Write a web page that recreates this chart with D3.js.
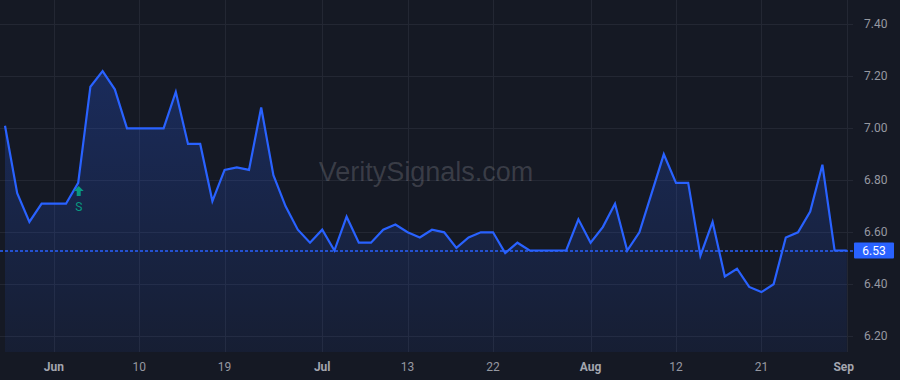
<!DOCTYPE html>
<html>
<head>
<meta charset="utf-8">
<script src="https://cdn.jsdelivr.net/npm/d3@7"></script>
<style>
  html, body { margin: 0; padding: 0; background: #151924; }
  svg { display: block; }
</style>
</head>
<body>
<div id="chart"></div>
<script>
// daily closes, one per bar (bar index 0..69)
var values = [
  7.01, 6.75, 6.64, 6.71, 6.71, 6.71, 6.79, 7.16, 7.22, 7.15,
  7.00, 7.00, 7.00, 7.00, 7.14, 6.94, 6.94, 6.72, 6.84, 6.85,
  6.84, 7.08, 6.82, 6.70, 6.61, 6.56, 6.61, 6.53, 6.66, 6.56,
  6.56, 6.61, 6.63, 6.60, 6.58, 6.61, 6.60, 6.54, 6.58, 6.60,
  6.60, 6.52, 6.56, 6.53, 6.53, 6.53, 6.53, 6.65, 6.56, 6.62,
  6.71, 6.53, 6.60, 6.75, 6.90, 6.79, 6.79, 6.51, 6.64, 6.43,
  6.46, 6.39, 6.37, 6.40, 6.58, 6.60, 6.68, 6.86, 6.53, 6.53
];
// x axis labels and the bar they sit on
var tickIndex = [4, 11, 18, 26, 33, 40, 48, 55, 62, 69];
var tickLabels = ["Jun", "10", "19", "Jul", "13", "22", "Aug", "12", "21", "Sep"];
var monthLabels = ["Jun", "Jul", "Aug", "Sep"];
var yTicks = [6.2, 6.4, 6.6, 6.8, 7.0, 7.2, 7.4];
var lastPrice = 6.53;
var signalIndex = 6;
var signalLabel = "S";
var watermark = "VeritySignals.com";

var width = 900, height = 380;
var plotRight = 853, plotBottom = 352;
var blue = "#2962ff", green = "#089981", grid = "#232733", textCol = "#9598a1";
var font = "Roboto, 'Liberation Sans', sans-serif";

var x = d3.scaleLinear().domain([0, values.length - 1]).range([5, 846.8]);
var y = d3.scaleLinear().domain([6.2, 7.4]).range([336.3, 24.3]);

var svg = d3.select("#chart").append("svg")
  .attr("width", width)
  .attr("height", height)
  .style("font-family", font);

svg.append("rect").attr("width", width).attr("height", height).attr("fill", "#151924");

// gradient for the area
var grad = svg.append("defs").append("linearGradient")
  .attr("id", "fillGrad")
  .attr("gradientUnits", "userSpaceOnUse")
  .attr("x1", 0).attr("x2", 0)
  .attr("y1", y(d3.max(values))).attr("y2", plotBottom);
grad.append("stop").attr("offset", 0).attr("stop-color", blue).attr("stop-opacity", 0.25);
grad.append("stop").attr("offset", 1).attr("stop-color", blue).attr("stop-opacity", 0.07);

// grid
svg.append("g").selectAll("line")
  .data(yTicks)
  .enter().append("line")
  .attr("x1", 0).attr("x2", plotRight)
  .attr("y1", d => Math.round(y(d)) + 0.5).attr("y2", d => Math.round(y(d)) + 0.5)
  .attr("stroke", grid);

svg.append("g").selectAll("line")
  .data(tickIndex)
  .enter().append("line")
  .attr("x1", d => Math.round(x(d)) + 0.5).attr("x2", d => Math.round(x(d)) + 0.5)
  .attr("y1", 0).attr("y2", plotBottom)
  .attr("stroke", grid);

// watermark
svg.append("text")
  .attr("x", 426).attr("y", 181)
  .attr("text-anchor", "middle")
  .attr("font-size", 27)
  .attr("fill", "rgba(255,255,255,0.16)")
  .style("font-family", "'Liberation Sans', Arial, sans-serif")
  .text(watermark);

// area + line
var area = d3.area()
  .x((d, i) => x(i))
  .y0(plotBottom)
  .y1(d => y(d));
var line = d3.line()
  .x((d, i) => x(i))
  .y(d => y(d));

svg.append("path").datum(values)
  .attr("d", area)
  .attr("fill", "url(#fillGrad)");

// last price dashed line
svg.append("line")
  .attr("x1", 0).attr("x2", plotRight)
  .attr("y1", Math.round(y(lastPrice))).attr("y2", Math.round(y(lastPrice)))
  .attr("stroke", blue)
  .attr("stroke-width", 1.6)
  .attr("stroke-dasharray", "3,2");

svg.append("path").datum(values)
  .attr("d", line)
  .attr("fill", "none")
  .attr("stroke", blue)
  .attr("stroke-width", 2.2)
  .attr("stroke-linejoin", "miter");

// signal marker
var sx = x(signalIndex) + 0.5, sy = 186;
svg.append("path")
  .attr("d", "M" + sx + "," + sy + " l5,5 h-3 v5 h-4 v-5 h-3 z")
  .attr("fill", green);
svg.append("text")
  .attr("x", sx).attr("y", 211)
  .attr("text-anchor", "middle")
  .attr("font-size", 12)
  .attr("fill", green)
  .text(signalLabel);

// y axis labels
svg.append("g").selectAll("text")
  .data(yTicks)
  .enter().append("text")
  .attr("x", 864)
  .attr("y", d => y(d) - 1)
  .attr("dy", "0.35em")
  .attr("font-size", 12)
  .attr("fill", textCol)
  .text(d => d3.format(".2f")(d));

// last price tag
var ly = y(lastPrice);
svg.append("rect")
  .attr("x", 854).attr("y", ly - 8)
  .attr("width", 40).attr("height", 16)
  .attr("rx", 1)
  .attr("fill", blue);
svg.append("text")
  .attr("x", 874).attr("y", ly)
  .attr("dy", "0.35em")
  .attr("text-anchor", "middle")
  .attr("font-size", 12)
  .attr("fill", "#ffffff")
  .text(d3.format(".2f")(lastPrice));

// x axis labels
svg.append("g").selectAll("text")
  .data(tickIndex)
  .enter().append("text")
  .attr("x", (d, i) => i === tickIndex.length - 1 ? x(d) - 3 : x(d))
  .attr("y", 367)
  .attr("dy", "0.35em")
  .attr("text-anchor", "middle")
  .attr("font-size", 12)
  .attr("font-weight", (d, i) => monthLabels.indexOf(tickLabels[i]) >= 0 ? "bold" : "normal")
  .attr("fill", (d, i) => monthLabels.indexOf(tickLabels[i]) >= 0 ? "#a3a6af" : textCol)
  .text((d, i) => tickLabels[i]);
</script>
</body>
</html>
